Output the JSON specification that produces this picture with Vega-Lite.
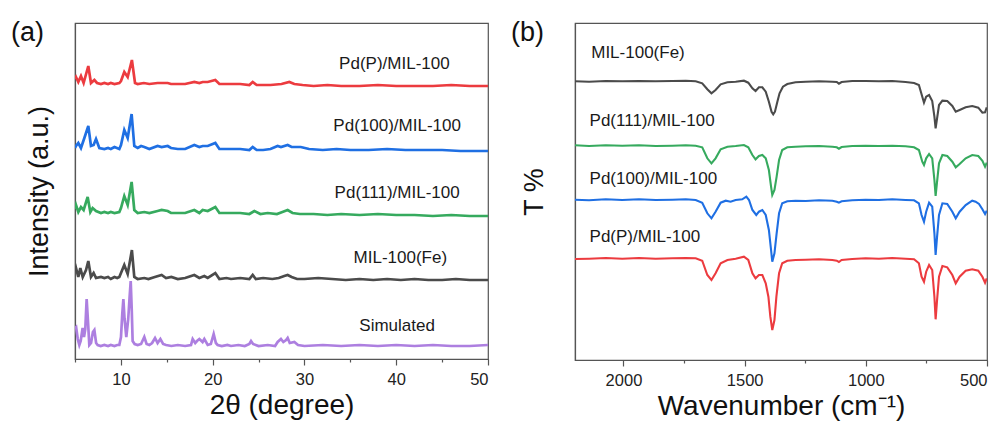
{
  "$schema": "https://vega.github.io/schema/vega-lite/v6.json",
  "padding": {"left": 10, "top": 18, "right": 0, "bottom": 0},
  "background": "white",
  "config": {
    "font": "Liberation Sans",
    "view": {"stroke": "#555555", "strokeWidth": 1.2},
    "axis": {
      "grid": false,
      "labelFont": "Liberation Sans",
      "titleFont": "Liberation Sans",
      "labelFontSize": 16.5,
      "titleFontSize": 27,
      "titleFontWeight": "normal",
      "labelColor": "#222222",
      "titleColor": "#111111",
      "domainColor": "#555555",
      "domainWidth": 1.2,
      "tickColor": "#555555",
      "tickWidth": 1.2
    },
    "title": {"font": "Liberation Sans", "fontSize": 27, "fontWeight": "normal", "color": "#111111"}
  },
  "datasets": {
    "xrd": [
      {"sample": "Simulated", "x": 5.0, "y": 31}, {"sample": "Simulated", "x": 5.12, "y": 32}, {"sample": "Simulated", "x": 5.3, "y": 20}, {"sample": "Simulated", "x": 5.47, "y": 14}, {"sample": "Simulated", "x": 5.62, "y": 18}, {"sample": "Simulated", "x": 5.83, "y": 31}, {"sample": "Simulated", "x": 5.98, "y": 22}, {"sample": "Simulated", "x": 6.12, "y": 30}, {"sample": "Simulated", "x": 6.27, "y": 60}, {"sample": "Simulated", "x": 6.4, "y": 40}, {"sample": "Simulated", "x": 6.56, "y": 14}, {"sample": "Simulated", "x": 6.75, "y": 16}, {"sample": "Simulated", "x": 6.95, "y": 27}, {"sample": "Simulated", "x": 7.11, "y": 29}, {"sample": "Simulated", "x": 7.3, "y": 16}, {"sample": "Simulated", "x": 7.47, "y": 14}, {"sample": "Simulated", "x": 7.8, "y": 13}, {"sample": "Simulated", "x": 8.2, "y": 14}, {"sample": "Simulated", "x": 8.6, "y": 13}, {"sample": "Simulated", "x": 8.9, "y": 14}, {"sample": "Simulated", "x": 9.3, "y": 13}, {"sample": "Simulated", "x": 9.6, "y": 14}, {"sample": "Simulated", "x": 9.83, "y": 14}, {"sample": "Simulated", "x": 10.01, "y": 22}, {"sample": "Simulated", "x": 10.15, "y": 45}, {"sample": "Simulated", "x": 10.27, "y": 60}, {"sample": "Simulated", "x": 10.4, "y": 40}, {"sample": "Simulated", "x": 10.59, "y": 22}, {"sample": "Simulated", "x": 10.8, "y": 40}, {"sample": "Simulated", "x": 10.95, "y": 62}, {"sample": "Simulated", "x": 11.07, "y": 78}, {"sample": "Simulated", "x": 11.18, "y": 50}, {"sample": "Simulated", "x": 11.28, "y": 18}, {"sample": "Simulated", "x": 11.5, "y": 15}, {"sample": "Simulated", "x": 11.83, "y": 14}, {"sample": "Simulated", "x": 12.2, "y": 15}, {"sample": "Simulated", "x": 12.55, "y": 22}, {"sample": "Simulated", "x": 12.8, "y": 15}, {"sample": "Simulated", "x": 13.1, "y": 14}, {"sample": "Simulated", "x": 13.4, "y": 16}, {"sample": "Simulated", "x": 13.72, "y": 21}, {"sample": "Simulated", "x": 14.0, "y": 16}, {"sample": "Simulated", "x": 14.3, "y": 20}, {"sample": "Simulated", "x": 14.6, "y": 15}, {"sample": "Simulated", "x": 14.92, "y": 14}, {"sample": "Simulated", "x": 15.5, "y": 13}, {"sample": "Simulated", "x": 16.2, "y": 14}, {"sample": "Simulated", "x": 17.0, "y": 13}, {"sample": "Simulated", "x": 17.64, "y": 14}, {"sample": "Simulated", "x": 17.82, "y": 20}, {"sample": "Simulated", "x": 18.1, "y": 16}, {"sample": "Simulated", "x": 18.29, "y": 18}, {"sample": "Simulated", "x": 18.55, "y": 20}, {"sample": "Simulated", "x": 18.9, "y": 17}, {"sample": "Simulated", "x": 19.09, "y": 20}, {"sample": "Simulated", "x": 19.46, "y": 14}, {"sample": "Simulated", "x": 19.8, "y": 15}, {"sample": "Simulated", "x": 20.11, "y": 25}, {"sample": "Simulated", "x": 20.35, "y": 16}, {"sample": "Simulated", "x": 20.54, "y": 14}, {"sample": "Simulated", "x": 21.0, "y": 13}, {"sample": "Simulated", "x": 21.6, "y": 14}, {"sample": "Simulated", "x": 22.0, "y": 13}, {"sample": "Simulated", "x": 22.8, "y": 14}, {"sample": "Simulated", "x": 23.5, "y": 13}, {"sample": "Simulated", "x": 24.0, "y": 15}, {"sample": "Simulated", "x": 24.18, "y": 18}, {"sample": "Simulated", "x": 24.4, "y": 15}, {"sample": "Simulated", "x": 25.0, "y": 13}, {"sample": "Simulated", "x": 26.0, "y": 14}, {"sample": "Simulated", "x": 26.8, "y": 13}, {"sample": "Simulated", "x": 27.08, "y": 17}, {"sample": "Simulated", "x": 27.44, "y": 20}, {"sample": "Simulated", "x": 27.7, "y": 17}, {"sample": "Simulated", "x": 28.0, "y": 19}, {"sample": "Simulated", "x": 28.17, "y": 21}, {"sample": "Simulated", "x": 28.4, "y": 16}, {"sample": "Simulated", "x": 28.9, "y": 17}, {"sample": "Simulated", "x": 29.3, "y": 14}, {"sample": "Simulated", "x": 30, "y": 13}, {"sample": "Simulated", "x": 32, "y": 14}, {"sample": "Simulated", "x": 34, "y": 13}, {"sample": "Simulated", "x": 36, "y": 14}, {"sample": "Simulated", "x": 38, "y": 13}, {"sample": "Simulated", "x": 40, "y": 14}, {"sample": "Simulated", "x": 42, "y": 13}, {"sample": "Simulated", "x": 44, "y": 14}, {"sample": "Simulated", "x": 46, "y": 13}, {"sample": "Simulated", "x": 48, "y": 13}, {"sample": "Simulated", "x": 50, "y": 14},

      {"sample": "MIL-100(Fe)", "x": 5.0, "y": 88}, {"sample": "MIL-100(Fe)", "x": 5.11, "y": 91}, {"sample": "MIL-100(Fe)", "x": 5.36, "y": 82}, {"sample": "MIL-100(Fe)", "x": 5.58, "y": 91}, {"sample": "MIL-100(Fe)", "x": 5.84, "y": 82}, {"sample": "MIL-100(Fe)", "x": 6.2, "y": 89}, {"sample": "MIL-100(Fe)", "x": 6.45, "y": 98}, {"sample": "MIL-100(Fe)", "x": 6.74, "y": 82}, {"sample": "MIL-100(Fe)", "x": 7.03, "y": 86}, {"sample": "MIL-100(Fe)", "x": 7.29, "y": 81}, {"sample": "MIL-100(Fe)", "x": 7.83, "y": 82}, {"sample": "MIL-100(Fe)", "x": 8.2, "y": 81}, {"sample": "MIL-100(Fe)", "x": 8.6, "y": 82}, {"sample": "MIL-100(Fe)", "x": 8.9, "y": 80}, {"sample": "MIL-100(Fe)", "x": 9.3, "y": 82}, {"sample": "MIL-100(Fe)", "x": 9.6, "y": 81}, {"sample": "MIL-100(Fe)", "x": 9.83, "y": 82}, {"sample": "MIL-100(Fe)", "x": 10.01, "y": 86}, {"sample": "MIL-100(Fe)", "x": 10.37, "y": 94}, {"sample": "MIL-100(Fe)", "x": 10.74, "y": 85}, {"sample": "MIL-100(Fe)", "x": 11.2, "y": 109}, {"sample": "MIL-100(Fe)", "x": 11.46, "y": 82}, {"sample": "MIL-100(Fe)", "x": 11.83, "y": 80}, {"sample": "MIL-100(Fe)", "x": 12.55, "y": 81}, {"sample": "MIL-100(Fe)", "x": 13.0, "y": 80}, {"sample": "MIL-100(Fe)", "x": 13.7, "y": 82}, {"sample": "MIL-100(Fe)", "x": 14.44, "y": 84}, {"sample": "MIL-100(Fe)", "x": 14.92, "y": 81}, {"sample": "MIL-100(Fe)", "x": 15.5, "y": 82}, {"sample": "MIL-100(Fe)", "x": 16.2, "y": 80}, {"sample": "MIL-100(Fe)", "x": 17.0, "y": 81}, {"sample": "MIL-100(Fe)", "x": 18.0, "y": 84}, {"sample": "MIL-100(Fe)", "x": 18.55, "y": 81}, {"sample": "MIL-100(Fe)", "x": 19.09, "y": 83}, {"sample": "MIL-100(Fe)", "x": 19.46, "y": 81}, {"sample": "MIL-100(Fe)", "x": 20.29, "y": 86}, {"sample": "MIL-100(Fe)", "x": 20.73, "y": 80}, {"sample": "MIL-100(Fe)", "x": 21.5, "y": 81}, {"sample": "MIL-100(Fe)", "x": 22.0, "y": 80}, {"sample": "MIL-100(Fe)", "x": 23.0, "y": 81}, {"sample": "MIL-100(Fe)", "x": 24.0, "y": 80}, {"sample": "MIL-100(Fe)", "x": 24.36, "y": 84}, {"sample": "MIL-100(Fe)", "x": 24.7, "y": 80}, {"sample": "MIL-100(Fe)", "x": 25.5, "y": 81}, {"sample": "MIL-100(Fe)", "x": 26.5, "y": 80}, {"sample": "MIL-100(Fe)", "x": 27.2, "y": 81}, {"sample": "MIL-100(Fe)", "x": 27.8, "y": 83}, {"sample": "MIL-100(Fe)", "x": 28.17, "y": 84}, {"sample": "MIL-100(Fe)", "x": 28.6, "y": 82}, {"sample": "MIL-100(Fe)", "x": 29.2, "y": 80}, {"sample": "MIL-100(Fe)", "x": 30, "y": 80}, {"sample": "MIL-100(Fe)", "x": 31.5, "y": 81}, {"sample": "MIL-100(Fe)", "x": 33, "y": 80}, {"sample": "MIL-100(Fe)", "x": 34.5, "y": 79}, {"sample": "MIL-100(Fe)", "x": 36, "y": 80}, {"sample": "MIL-100(Fe)", "x": 37.5, "y": 79}, {"sample": "MIL-100(Fe)", "x": 39, "y": 80}, {"sample": "MIL-100(Fe)", "x": 40.5, "y": 79}, {"sample": "MIL-100(Fe)", "x": 42, "y": 80}, {"sample": "MIL-100(Fe)", "x": 43.5, "y": 79}, {"sample": "MIL-100(Fe)", "x": 45, "y": 79}, {"sample": "MIL-100(Fe)", "x": 46.5, "y": 80}, {"sample": "MIL-100(Fe)", "x": 48, "y": 79}, {"sample": "MIL-100(Fe)", "x": 50, "y": 79},

      {"sample": "Pd(111)/MIL-100", "x": 5.0, "y": 150}, {"sample": "Pd(111)/MIL-100", "x": 5.11, "y": 154}, {"sample": "Pd(111)/MIL-100", "x": 5.36, "y": 147}, {"sample": "Pd(111)/MIL-100", "x": 5.65, "y": 152}, {"sample": "Pd(111)/MIL-100", "x": 5.94, "y": 149}, {"sample": "Pd(111)/MIL-100", "x": 6.38, "y": 162}, {"sample": "Pd(111)/MIL-100", "x": 6.67, "y": 147}, {"sample": "Pd(111)/MIL-100", "x": 6.92, "y": 151}, {"sample": "Pd(111)/MIL-100", "x": 7.29, "y": 148}, {"sample": "Pd(111)/MIL-100", "x": 7.83, "y": 146}, {"sample": "Pd(111)/MIL-100", "x": 8.2, "y": 147}, {"sample": "Pd(111)/MIL-100", "x": 8.6, "y": 146}, {"sample": "Pd(111)/MIL-100", "x": 8.9, "y": 147}, {"sample": "Pd(111)/MIL-100", "x": 9.3, "y": 146}, {"sample": "Pd(111)/MIL-100", "x": 9.83, "y": 147}, {"sample": "Pd(111)/MIL-100", "x": 10.01, "y": 151}, {"sample": "Pd(111)/MIL-100", "x": 10.37, "y": 163}, {"sample": "Pd(111)/MIL-100", "x": 10.74, "y": 154}, {"sample": "Pd(111)/MIL-100", "x": 11.17, "y": 177}, {"sample": "Pd(111)/MIL-100", "x": 11.46, "y": 149}, {"sample": "Pd(111)/MIL-100", "x": 11.83, "y": 146}, {"sample": "Pd(111)/MIL-100", "x": 12.55, "y": 147}, {"sample": "Pd(111)/MIL-100", "x": 13.1, "y": 146}, {"sample": "Pd(111)/MIL-100", "x": 14.0, "y": 148}, {"sample": "Pd(111)/MIL-100", "x": 14.44, "y": 149}, {"sample": "Pd(111)/MIL-100", "x": 15.1, "y": 148}, {"sample": "Pd(111)/MIL-100", "x": 15.46, "y": 146}, {"sample": "Pd(111)/MIL-100", "x": 16.2, "y": 146}, {"sample": "Pd(111)/MIL-100", "x": 17.0, "y": 146}, {"sample": "Pd(111)/MIL-100", "x": 18.0, "y": 149}, {"sample": "Pd(111)/MIL-100", "x": 18.55, "y": 146}, {"sample": "Pd(111)/MIL-100", "x": 18.91, "y": 149}, {"sample": "Pd(111)/MIL-100", "x": 19.46, "y": 148}, {"sample": "Pd(111)/MIL-100", "x": 20.29, "y": 152}, {"sample": "Pd(111)/MIL-100", "x": 20.73, "y": 146}, {"sample": "Pd(111)/MIL-100", "x": 22.0, "y": 146}, {"sample": "Pd(111)/MIL-100", "x": 23.0, "y": 146}, {"sample": "Pd(111)/MIL-100", "x": 24.0, "y": 145}, {"sample": "Pd(111)/MIL-100", "x": 24.54, "y": 148}, {"sample": "Pd(111)/MIL-100", "x": 25.2, "y": 145}, {"sample": "Pd(111)/MIL-100", "x": 26.0, "y": 146}, {"sample": "Pd(111)/MIL-100", "x": 27.0, "y": 145}, {"sample": "Pd(111)/MIL-100", "x": 27.6, "y": 147}, {"sample": "Pd(111)/MIL-100", "x": 28.17, "y": 149}, {"sample": "Pd(111)/MIL-100", "x": 28.7, "y": 146}, {"sample": "Pd(111)/MIL-100", "x": 29.5, "y": 145}, {"sample": "Pd(111)/MIL-100", "x": 31, "y": 145}, {"sample": "Pd(111)/MIL-100", "x": 32.5, "y": 144}, {"sample": "Pd(111)/MIL-100", "x": 34, "y": 145}, {"sample": "Pd(111)/MIL-100", "x": 36, "y": 144}, {"sample": "Pd(111)/MIL-100", "x": 38, "y": 145}, {"sample": "Pd(111)/MIL-100", "x": 40, "y": 144}, {"sample": "Pd(111)/MIL-100", "x": 42, "y": 144}, {"sample": "Pd(111)/MIL-100", "x": 44, "y": 143}, {"sample": "Pd(111)/MIL-100", "x": 46, "y": 144}, {"sample": "Pd(111)/MIL-100", "x": 48, "y": 143}, {"sample": "Pd(111)/MIL-100", "x": 50, "y": 143},

      {"sample": "Pd(100)/MIL-100", "x": 5.0, "y": 211}, {"sample": "Pd(100)/MIL-100", "x": 5.11, "y": 213}, {"sample": "Pd(100)/MIL-100", "x": 5.36, "y": 216}, {"sample": "Pd(100)/MIL-100", "x": 5.65, "y": 211}, {"sample": "Pd(100)/MIL-100", "x": 6.02, "y": 221}, {"sample": "Pd(100)/MIL-100", "x": 6.45, "y": 233}, {"sample": "Pd(100)/MIL-100", "x": 6.74, "y": 213}, {"sample": "Pd(100)/MIL-100", "x": 7.03, "y": 214}, {"sample": "Pd(100)/MIL-100", "x": 7.29, "y": 220}, {"sample": "Pd(100)/MIL-100", "x": 7.65, "y": 211}, {"sample": "Pd(100)/MIL-100", "x": 8.2, "y": 210}, {"sample": "Pd(100)/MIL-100", "x": 8.6, "y": 211}, {"sample": "Pd(100)/MIL-100", "x": 8.9, "y": 210}, {"sample": "Pd(100)/MIL-100", "x": 9.3, "y": 212}, {"sample": "Pd(100)/MIL-100", "x": 9.83, "y": 210}, {"sample": "Pd(100)/MIL-100", "x": 10.01, "y": 214}, {"sample": "Pd(100)/MIL-100", "x": 10.37, "y": 229}, {"sample": "Pd(100)/MIL-100", "x": 10.74, "y": 221}, {"sample": "Pd(100)/MIL-100", "x": 11.17, "y": 245}, {"sample": "Pd(100)/MIL-100", "x": 11.46, "y": 213}, {"sample": "Pd(100)/MIL-100", "x": 11.83, "y": 211}, {"sample": "Pd(100)/MIL-100", "x": 12.2, "y": 213}, {"sample": "Pd(100)/MIL-100", "x": 12.55, "y": 212}, {"sample": "Pd(100)/MIL-100", "x": 13.1, "y": 210}, {"sample": "Pd(100)/MIL-100", "x": 14.0, "y": 213}, {"sample": "Pd(100)/MIL-100", "x": 14.44, "y": 212}, {"sample": "Pd(100)/MIL-100", "x": 15.1, "y": 213}, {"sample": "Pd(100)/MIL-100", "x": 15.46, "y": 211}, {"sample": "Pd(100)/MIL-100", "x": 16.2, "y": 210}, {"sample": "Pd(100)/MIL-100", "x": 17.0, "y": 210}, {"sample": "Pd(100)/MIL-100", "x": 18.0, "y": 214}, {"sample": "Pd(100)/MIL-100", "x": 18.55, "y": 212}, {"sample": "Pd(100)/MIL-100", "x": 18.91, "y": 213}, {"sample": "Pd(100)/MIL-100", "x": 19.46, "y": 213}, {"sample": "Pd(100)/MIL-100", "x": 20.29, "y": 216}, {"sample": "Pd(100)/MIL-100", "x": 20.73, "y": 210}, {"sample": "Pd(100)/MIL-100", "x": 22.0, "y": 210}, {"sample": "Pd(100)/MIL-100", "x": 23.0, "y": 210}, {"sample": "Pd(100)/MIL-100", "x": 24.0, "y": 209}, {"sample": "Pd(100)/MIL-100", "x": 24.36, "y": 212}, {"sample": "Pd(100)/MIL-100", "x": 24.8, "y": 209}, {"sample": "Pd(100)/MIL-100", "x": 25.5, "y": 209}, {"sample": "Pd(100)/MIL-100", "x": 26.3, "y": 210}, {"sample": "Pd(100)/MIL-100", "x": 27.08, "y": 213}, {"sample": "Pd(100)/MIL-100", "x": 27.44, "y": 212}, {"sample": "Pd(100)/MIL-100", "x": 28.17, "y": 214}, {"sample": "Pd(100)/MIL-100", "x": 28.6, "y": 212}, {"sample": "Pd(100)/MIL-100", "x": 29.6, "y": 212}, {"sample": "Pd(100)/MIL-100", "x": 30.5, "y": 210}, {"sample": "Pd(100)/MIL-100", "x": 32, "y": 209}, {"sample": "Pd(100)/MIL-100", "x": 33.5, "y": 210}, {"sample": "Pd(100)/MIL-100", "x": 35, "y": 209}, {"sample": "Pd(100)/MIL-100", "x": 37, "y": 209}, {"sample": "Pd(100)/MIL-100", "x": 39, "y": 210}, {"sample": "Pd(100)/MIL-100", "x": 41, "y": 209}, {"sample": "Pd(100)/MIL-100", "x": 43, "y": 209}, {"sample": "Pd(100)/MIL-100", "x": 45, "y": 209}, {"sample": "Pd(100)/MIL-100", "x": 47, "y": 208}, {"sample": "Pd(100)/MIL-100", "x": 50, "y": 208},

      {"sample": "Pd(P)/MIL-100", "x": 5.0, "y": 280}, {"sample": "Pd(P)/MIL-100", "x": 5.11, "y": 282}, {"sample": "Pd(P)/MIL-100", "x": 5.36, "y": 277}, {"sample": "Pd(P)/MIL-100", "x": 5.65, "y": 283}, {"sample": "Pd(P)/MIL-100", "x": 5.94, "y": 276}, {"sample": "Pd(P)/MIL-100", "x": 6.45, "y": 293}, {"sample": "Pd(P)/MIL-100", "x": 6.74, "y": 276}, {"sample": "Pd(P)/MIL-100", "x": 7.11, "y": 279}, {"sample": "Pd(P)/MIL-100", "x": 7.4, "y": 276}, {"sample": "Pd(P)/MIL-100", "x": 7.83, "y": 275}, {"sample": "Pd(P)/MIL-100", "x": 8.2, "y": 276}, {"sample": "Pd(P)/MIL-100", "x": 8.6, "y": 275}, {"sample": "Pd(P)/MIL-100", "x": 8.9, "y": 276}, {"sample": "Pd(P)/MIL-100", "x": 9.3, "y": 275}, {"sample": "Pd(P)/MIL-100", "x": 9.83, "y": 276}, {"sample": "Pd(P)/MIL-100", "x": 10.01, "y": 278}, {"sample": "Pd(P)/MIL-100", "x": 10.37, "y": 287}, {"sample": "Pd(P)/MIL-100", "x": 10.74, "y": 282}, {"sample": "Pd(P)/MIL-100", "x": 11.2, "y": 299}, {"sample": "Pd(P)/MIL-100", "x": 11.54, "y": 276}, {"sample": "Pd(P)/MIL-100", "x": 11.83, "y": 275}, {"sample": "Pd(P)/MIL-100", "x": 12.5, "y": 276}, {"sample": "Pd(P)/MIL-100", "x": 13.1, "y": 275}, {"sample": "Pd(P)/MIL-100", "x": 14.0, "y": 276}, {"sample": "Pd(P)/MIL-100", "x": 14.44, "y": 276}, {"sample": "Pd(P)/MIL-100", "x": 15.1, "y": 276}, {"sample": "Pd(P)/MIL-100", "x": 15.46, "y": 275}, {"sample": "Pd(P)/MIL-100", "x": 16.2, "y": 275}, {"sample": "Pd(P)/MIL-100", "x": 17.0, "y": 275}, {"sample": "Pd(P)/MIL-100", "x": 18.0, "y": 277}, {"sample": "Pd(P)/MIL-100", "x": 18.55, "y": 276}, {"sample": "Pd(P)/MIL-100", "x": 18.91, "y": 277}, {"sample": "Pd(P)/MIL-100", "x": 19.46, "y": 277}, {"sample": "Pd(P)/MIL-100", "x": 20.29, "y": 279}, {"sample": "Pd(P)/MIL-100", "x": 20.73, "y": 275}, {"sample": "Pd(P)/MIL-100", "x": 22.0, "y": 275}, {"sample": "Pd(P)/MIL-100", "x": 23.0, "y": 275}, {"sample": "Pd(P)/MIL-100", "x": 24.0, "y": 274}, {"sample": "Pd(P)/MIL-100", "x": 24.36, "y": 277}, {"sample": "Pd(P)/MIL-100", "x": 24.8, "y": 274}, {"sample": "Pd(P)/MIL-100", "x": 25.5, "y": 274}, {"sample": "Pd(P)/MIL-100", "x": 26.3, "y": 274}, {"sample": "Pd(P)/MIL-100", "x": 27.5, "y": 275}, {"sample": "Pd(P)/MIL-100", "x": 28.35, "y": 277}, {"sample": "Pd(P)/MIL-100", "x": 28.9, "y": 275}, {"sample": "Pd(P)/MIL-100", "x": 29.8, "y": 274}, {"sample": "Pd(P)/MIL-100", "x": 31, "y": 273}, {"sample": "Pd(P)/MIL-100", "x": 32.5, "y": 274}, {"sample": "Pd(P)/MIL-100", "x": 34, "y": 273}, {"sample": "Pd(P)/MIL-100", "x": 36, "y": 273}, {"sample": "Pd(P)/MIL-100", "x": 38, "y": 274}, {"sample": "Pd(P)/MIL-100", "x": 40, "y": 273}, {"sample": "Pd(P)/MIL-100", "x": 42, "y": 273}, {"sample": "Pd(P)/MIL-100", "x": 44, "y": 273}, {"sample": "Pd(P)/MIL-100", "x": 46, "y": 274}, {"sample": "Pd(P)/MIL-100", "x": 48, "y": 273}, {"sample": "Pd(P)/MIL-100", "x": 50, "y": 273}
    ],
    "xrdLabels": [
      {"sample": "Pd(P)/MIL-100", "x": 39.8, "y": 295},
      {"sample": "Pd(100)/MIL-100", "x": 40.1, "y": 233},
      {"sample": "Pd(111)/MIL-100", "x": 40.1, "y": 166},
      {"sample": "MIL-100(Fe)", "x": 40.45, "y": 101},
      {"sample": "Simulated", "x": 40.1, "y": 33}
    ],
    "ftir": [
      {"sample": "MIL-100(Fe)", "w": 2200, "t": 278.7}, {"sample": "MIL-100(Fe)", "w": 2142, "t": 278.3}, {"sample": "MIL-100(Fe)", "w": 2073, "t": 279}, {"sample": "MIL-100(Fe)", "w": 2005, "t": 278.7}, {"sample": "MIL-100(Fe)", "w": 1936, "t": 279}, {"sample": "MIL-100(Fe)", "w": 1867, "t": 278.7}, {"sample": "MIL-100(Fe)", "w": 1798, "t": 279}, {"sample": "MIL-100(Fe)", "w": 1743, "t": 279.3}, {"sample": "MIL-100(Fe)", "w": 1702, "t": 278.7}, {"sample": "MIL-100(Fe)", "w": 1675, "t": 276.7}, {"sample": "MIL-100(Fe)", "w": 1654, "t": 270.7}, {"sample": "MIL-100(Fe)", "w": 1637, "t": 266.7}, {"sample": "MIL-100(Fe)", "w": 1620, "t": 270}, {"sample": "MIL-100(Fe)", "w": 1599, "t": 275.7}, {"sample": "MIL-100(Fe)", "w": 1571, "t": 277.7}, {"sample": "MIL-100(Fe)", "w": 1537, "t": 278.3}, {"sample": "MIL-100(Fe)", "w": 1503, "t": 279.3}, {"sample": "MIL-100(Fe)", "w": 1485, "t": 277.3}, {"sample": "MIL-100(Fe)", "w": 1468, "t": 271.7}, {"sample": "MIL-100(Fe)", "w": 1455, "t": 269}, {"sample": "MIL-100(Fe)", "w": 1441, "t": 272.7}, {"sample": "MIL-100(Fe)", "w": 1427, "t": 272.7}, {"sample": "MIL-100(Fe)", "w": 1413, "t": 268.3}, {"sample": "MIL-100(Fe)", "w": 1400, "t": 258.3}, {"sample": "MIL-100(Fe)", "w": 1389, "t": 248.3}, {"sample": "MIL-100(Fe)", "w": 1382, "t": 245.7}, {"sample": "MIL-100(Fe)", "w": 1375, "t": 248.3}, {"sample": "MIL-100(Fe)", "w": 1365, "t": 258.3}, {"sample": "MIL-100(Fe)", "w": 1356, "t": 266.7}, {"sample": "MIL-100(Fe)", "w": 1342, "t": 273.3}, {"sample": "MIL-100(Fe)", "w": 1324, "t": 276}, {"sample": "MIL-100(Fe)", "w": 1290, "t": 277.7}, {"sample": "MIL-100(Fe)", "w": 1248, "t": 278.3}, {"sample": "MIL-100(Fe)", "w": 1193, "t": 278.7}, {"sample": "MIL-100(Fe)", "w": 1138, "t": 278.3}, {"sample": "MIL-100(Fe)", "w": 1120, "t": 278}, {"sample": "MIL-100(Fe)", "w": 1111, "t": 276.3}, {"sample": "MIL-100(Fe)", "w": 1100, "t": 278}, {"sample": "MIL-100(Fe)", "w": 1056, "t": 279}, {"sample": "MIL-100(Fe)", "w": 1001, "t": 279}, {"sample": "MIL-100(Fe)", "w": 946, "t": 278.7}, {"sample": "MIL-100(Fe)", "w": 891, "t": 279}, {"sample": "MIL-100(Fe)", "w": 836, "t": 278}, {"sample": "MIL-100(Fe)", "w": 801, "t": 277}, {"sample": "MIL-100(Fe)", "w": 781, "t": 275}, {"sample": "MIL-100(Fe)", "w": 767, "t": 263.3}, {"sample": "MIL-100(Fe)", "w": 760, "t": 257.3}, {"sample": "MIL-100(Fe)", "w": 751, "t": 263.3}, {"sample": "MIL-100(Fe)", "w": 739, "t": 265}, {"sample": "MIL-100(Fe)", "w": 726, "t": 259}, {"sample": "MIL-100(Fe)", "w": 717, "t": 243.3}, {"sample": "MIL-100(Fe)", "w": 712, "t": 231.7}, {"sample": "MIL-100(Fe)", "w": 706, "t": 241.7}, {"sample": "MIL-100(Fe)", "w": 698, "t": 255}, {"sample": "MIL-100(Fe)", "w": 684, "t": 259.3}, {"sample": "MIL-100(Fe)", "w": 664, "t": 259}, {"sample": "MIL-100(Fe)", "w": 643, "t": 254}, {"sample": "MIL-100(Fe)", "w": 629, "t": 248.3}, {"sample": "MIL-100(Fe)", "w": 613, "t": 250}, {"sample": "MIL-100(Fe)", "w": 588, "t": 252.7}, {"sample": "MIL-100(Fe)", "w": 561, "t": 254}, {"sample": "MIL-100(Fe)", "w": 536, "t": 252.3}, {"sample": "MIL-100(Fe)", "w": 519, "t": 247.3}, {"sample": "MIL-100(Fe)", "w": 508, "t": 247.7}, {"sample": "MIL-100(Fe)", "w": 501, "t": 252.7},

      {"sample": "Pd(111)/MIL-100", "w": 2200, "t": 214.7}, {"sample": "Pd(111)/MIL-100", "w": 2142, "t": 214}, {"sample": "Pd(111)/MIL-100", "w": 2073, "t": 214.7}, {"sample": "Pd(111)/MIL-100", "w": 2005, "t": 214.3}, {"sample": "Pd(111)/MIL-100", "w": 1936, "t": 214.7}, {"sample": "Pd(111)/MIL-100", "w": 1867, "t": 214}, {"sample": "Pd(111)/MIL-100", "w": 1798, "t": 214.3}, {"sample": "Pd(111)/MIL-100", "w": 1743, "t": 214.7}, {"sample": "Pd(111)/MIL-100", "w": 1702, "t": 214.3}, {"sample": "Pd(111)/MIL-100", "w": 1675, "t": 212.7}, {"sample": "Pd(111)/MIL-100", "w": 1654, "t": 201.7}, {"sample": "Pd(111)/MIL-100", "w": 1637, "t": 196.7}, {"sample": "Pd(111)/MIL-100", "w": 1620, "t": 201.7}, {"sample": "Pd(111)/MIL-100", "w": 1599, "t": 210.7}, {"sample": "Pd(111)/MIL-100", "w": 1571, "t": 213.3}, {"sample": "Pd(111)/MIL-100", "w": 1537, "t": 214}, {"sample": "Pd(111)/MIL-100", "w": 1503, "t": 215}, {"sample": "Pd(111)/MIL-100", "w": 1485, "t": 212.7}, {"sample": "Pd(111)/MIL-100", "w": 1468, "t": 205}, {"sample": "Pd(111)/MIL-100", "w": 1455, "t": 200.7}, {"sample": "Pd(111)/MIL-100", "w": 1441, "t": 204}, {"sample": "Pd(111)/MIL-100", "w": 1427, "t": 205}, {"sample": "Pd(111)/MIL-100", "w": 1413, "t": 201.7}, {"sample": "Pd(111)/MIL-100", "w": 1400, "t": 190}, {"sample": "Pd(111)/MIL-100", "w": 1391, "t": 173.3}, {"sample": "Pd(111)/MIL-100", "w": 1386, "t": 165}, {"sample": "Pd(111)/MIL-100", "w": 1377, "t": 170}, {"sample": "Pd(111)/MIL-100", "w": 1368, "t": 183.3}, {"sample": "Pd(111)/MIL-100", "w": 1358, "t": 200}, {"sample": "Pd(111)/MIL-100", "w": 1345, "t": 210}, {"sample": "Pd(111)/MIL-100", "w": 1324, "t": 212.7}, {"sample": "Pd(111)/MIL-100", "w": 1290, "t": 213.3}, {"sample": "Pd(111)/MIL-100", "w": 1248, "t": 213.7}, {"sample": "Pd(111)/MIL-100", "w": 1193, "t": 214}, {"sample": "Pd(111)/MIL-100", "w": 1138, "t": 213.3}, {"sample": "Pd(111)/MIL-100", "w": 1120, "t": 212.7}, {"sample": "Pd(111)/MIL-100", "w": 1111, "t": 211.3}, {"sample": "Pd(111)/MIL-100", "w": 1100, "t": 213}, {"sample": "Pd(111)/MIL-100", "w": 1056, "t": 214}, {"sample": "Pd(111)/MIL-100", "w": 1001, "t": 214.3}, {"sample": "Pd(111)/MIL-100", "w": 946, "t": 214}, {"sample": "Pd(111)/MIL-100", "w": 891, "t": 214.3}, {"sample": "Pd(111)/MIL-100", "w": 836, "t": 213.7}, {"sample": "Pd(111)/MIL-100", "w": 801, "t": 212.7}, {"sample": "Pd(111)/MIL-100", "w": 781, "t": 210}, {"sample": "Pd(111)/MIL-100", "w": 767, "t": 198.3}, {"sample": "Pd(111)/MIL-100", "w": 760, "t": 195}, {"sample": "Pd(111)/MIL-100", "w": 751, "t": 201.7}, {"sample": "Pd(111)/MIL-100", "w": 739, "t": 206}, {"sample": "Pd(111)/MIL-100", "w": 726, "t": 201.7}, {"sample": "Pd(111)/MIL-100", "w": 717, "t": 180}, {"sample": "Pd(111)/MIL-100", "w": 712, "t": 164}, {"sample": "Pd(111)/MIL-100", "w": 706, "t": 178.3}, {"sample": "Pd(111)/MIL-100", "w": 698, "t": 196.7}, {"sample": "Pd(111)/MIL-100", "w": 684, "t": 205}, {"sample": "Pd(111)/MIL-100", "w": 664, "t": 204}, {"sample": "Pd(111)/MIL-100", "w": 643, "t": 198.3}, {"sample": "Pd(111)/MIL-100", "w": 629, "t": 192.7}, {"sample": "Pd(111)/MIL-100", "w": 613, "t": 196}, {"sample": "Pd(111)/MIL-100", "w": 588, "t": 201.7}, {"sample": "Pd(111)/MIL-100", "w": 561, "t": 205}, {"sample": "Pd(111)/MIL-100", "w": 536, "t": 204}, {"sample": "Pd(111)/MIL-100", "w": 519, "t": 199.3}, {"sample": "Pd(111)/MIL-100", "w": 508, "t": 193.3}, {"sample": "Pd(111)/MIL-100", "w": 501, "t": 197.3},

      {"sample": "Pd(100)/MIL-100", "w": 2200, "t": 160.3}, {"sample": "Pd(100)/MIL-100", "w": 2142, "t": 159.7}, {"sample": "Pd(100)/MIL-100", "w": 2073, "t": 160.7}, {"sample": "Pd(100)/MIL-100", "w": 2005, "t": 160}, {"sample": "Pd(100)/MIL-100", "w": 1936, "t": 160.7}, {"sample": "Pd(100)/MIL-100", "w": 1867, "t": 160}, {"sample": "Pd(100)/MIL-100", "w": 1798, "t": 160.3}, {"sample": "Pd(100)/MIL-100", "w": 1743, "t": 160.7}, {"sample": "Pd(100)/MIL-100", "w": 1702, "t": 160}, {"sample": "Pd(100)/MIL-100", "w": 1675, "t": 157.3}, {"sample": "Pd(100)/MIL-100", "w": 1654, "t": 146.7}, {"sample": "Pd(100)/MIL-100", "w": 1637, "t": 141.7}, {"sample": "Pd(100)/MIL-100", "w": 1620, "t": 148.3}, {"sample": "Pd(100)/MIL-100", "w": 1599, "t": 157.3}, {"sample": "Pd(100)/MIL-100", "w": 1578, "t": 159.3}, {"sample": "Pd(100)/MIL-100", "w": 1558, "t": 158.3}, {"sample": "Pd(100)/MIL-100", "w": 1537, "t": 160}, {"sample": "Pd(100)/MIL-100", "w": 1510, "t": 160.7}, {"sample": "Pd(100)/MIL-100", "w": 1493, "t": 163.3}, {"sample": "Pd(100)/MIL-100", "w": 1482, "t": 160}, {"sample": "Pd(100)/MIL-100", "w": 1468, "t": 150}, {"sample": "Pd(100)/MIL-100", "w": 1452, "t": 145}, {"sample": "Pd(100)/MIL-100", "w": 1441, "t": 148.3}, {"sample": "Pd(100)/MIL-100", "w": 1427, "t": 150}, {"sample": "Pd(100)/MIL-100", "w": 1413, "t": 145}, {"sample": "Pd(100)/MIL-100", "w": 1400, "t": 130}, {"sample": "Pd(100)/MIL-100", "w": 1391, "t": 110}, {"sample": "Pd(100)/MIL-100", "w": 1386, "t": 98.3}, {"sample": "Pd(100)/MIL-100", "w": 1377, "t": 106.7}, {"sample": "Pd(100)/MIL-100", "w": 1368, "t": 126.7}, {"sample": "Pd(100)/MIL-100", "w": 1358, "t": 146.7}, {"sample": "Pd(100)/MIL-100", "w": 1345, "t": 156.7}, {"sample": "Pd(100)/MIL-100", "w": 1324, "t": 158.7}, {"sample": "Pd(100)/MIL-100", "w": 1290, "t": 159.3}, {"sample": "Pd(100)/MIL-100", "w": 1248, "t": 159}, {"sample": "Pd(100)/MIL-100", "w": 1193, "t": 159.7}, {"sample": "Pd(100)/MIL-100", "w": 1138, "t": 159.3}, {"sample": "Pd(100)/MIL-100", "w": 1120, "t": 158.3}, {"sample": "Pd(100)/MIL-100", "w": 1111, "t": 157.3}, {"sample": "Pd(100)/MIL-100", "w": 1100, "t": 158.7}, {"sample": "Pd(100)/MIL-100", "w": 1056, "t": 159.7}, {"sample": "Pd(100)/MIL-100", "w": 1001, "t": 160.3}, {"sample": "Pd(100)/MIL-100", "w": 946, "t": 160}, {"sample": "Pd(100)/MIL-100", "w": 891, "t": 160.7}, {"sample": "Pd(100)/MIL-100", "w": 836, "t": 160}, {"sample": "Pd(100)/MIL-100", "w": 801, "t": 159.7}, {"sample": "Pd(100)/MIL-100", "w": 781, "t": 156.7}, {"sample": "Pd(100)/MIL-100", "w": 770, "t": 145}, {"sample": "Pd(100)/MIL-100", "w": 760, "t": 138.3}, {"sample": "Pd(100)/MIL-100", "w": 751, "t": 148.3}, {"sample": "Pd(100)/MIL-100", "w": 739, "t": 157.3}, {"sample": "Pd(100)/MIL-100", "w": 726, "t": 153.3}, {"sample": "Pd(100)/MIL-100", "w": 717, "t": 126.7}, {"sample": "Pd(100)/MIL-100", "w": 712, "t": 105}, {"sample": "Pd(100)/MIL-100", "w": 706, "t": 123.3}, {"sample": "Pd(100)/MIL-100", "w": 698, "t": 145}, {"sample": "Pd(100)/MIL-100", "w": 684, "t": 156.7}, {"sample": "Pd(100)/MIL-100", "w": 664, "t": 156}, {"sample": "Pd(100)/MIL-100", "w": 643, "t": 148.3}, {"sample": "Pd(100)/MIL-100", "w": 629, "t": 141.7}, {"sample": "Pd(100)/MIL-100", "w": 613, "t": 148.3}, {"sample": "Pd(100)/MIL-100", "w": 588, "t": 155}, {"sample": "Pd(100)/MIL-100", "w": 561, "t": 159.3}, {"sample": "Pd(100)/MIL-100", "w": 547, "t": 158.3}, {"sample": "Pd(100)/MIL-100", "w": 533, "t": 156}, {"sample": "Pd(100)/MIL-100", "w": 519, "t": 150.7}, {"sample": "Pd(100)/MIL-100", "w": 508, "t": 146}, {"sample": "Pd(100)/MIL-100", "w": 501, "t": 149.3},

      {"sample": "Pd(P)/MIL-100", "w": 2200, "t": 101}, {"sample": "Pd(P)/MIL-100", "w": 2142, "t": 101.3}, {"sample": "Pd(P)/MIL-100", "w": 2073, "t": 102}, {"sample": "Pd(P)/MIL-100", "w": 2005, "t": 101.3}, {"sample": "Pd(P)/MIL-100", "w": 1936, "t": 102}, {"sample": "Pd(P)/MIL-100", "w": 1867, "t": 101.3}, {"sample": "Pd(P)/MIL-100", "w": 1798, "t": 101.7}, {"sample": "Pd(P)/MIL-100", "w": 1743, "t": 102}, {"sample": "Pd(P)/MIL-100", "w": 1702, "t": 101.7}, {"sample": "Pd(P)/MIL-100", "w": 1675, "t": 99.3}, {"sample": "Pd(P)/MIL-100", "w": 1654, "t": 85}, {"sample": "Pd(P)/MIL-100", "w": 1637, "t": 80}, {"sample": "Pd(P)/MIL-100", "w": 1620, "t": 86.7}, {"sample": "Pd(P)/MIL-100", "w": 1599, "t": 96.7}, {"sample": "Pd(P)/MIL-100", "w": 1571, "t": 100}, {"sample": "Pd(P)/MIL-100", "w": 1537, "t": 101.3}, {"sample": "Pd(P)/MIL-100", "w": 1503, "t": 103.3}, {"sample": "Pd(P)/MIL-100", "w": 1485, "t": 100}, {"sample": "Pd(P)/MIL-100", "w": 1468, "t": 86.7}, {"sample": "Pd(P)/MIL-100", "w": 1455, "t": 81.7}, {"sample": "Pd(P)/MIL-100", "w": 1441, "t": 85}, {"sample": "Pd(P)/MIL-100", "w": 1427, "t": 85}, {"sample": "Pd(P)/MIL-100", "w": 1413, "t": 76.7}, {"sample": "Pd(P)/MIL-100", "w": 1402, "t": 63.3}, {"sample": "Pd(P)/MIL-100", "w": 1394, "t": 43.3}, {"sample": "Pd(P)/MIL-100", "w": 1386, "t": 30}, {"sample": "Pd(P)/MIL-100", "w": 1377, "t": 40}, {"sample": "Pd(P)/MIL-100", "w": 1369, "t": 63.3}, {"sample": "Pd(P)/MIL-100", "w": 1358, "t": 86.7}, {"sample": "Pd(P)/MIL-100", "w": 1345, "t": 96.7}, {"sample": "Pd(P)/MIL-100", "w": 1324, "t": 99.3}, {"sample": "Pd(P)/MIL-100", "w": 1290, "t": 100}, {"sample": "Pd(P)/MIL-100", "w": 1248, "t": 100.3}, {"sample": "Pd(P)/MIL-100", "w": 1193, "t": 100.7}, {"sample": "Pd(P)/MIL-100", "w": 1138, "t": 100}, {"sample": "Pd(P)/MIL-100", "w": 1120, "t": 99.3}, {"sample": "Pd(P)/MIL-100", "w": 1111, "t": 98}, {"sample": "Pd(P)/MIL-100", "w": 1100, "t": 100}, {"sample": "Pd(P)/MIL-100", "w": 1056, "t": 101}, {"sample": "Pd(P)/MIL-100", "w": 1001, "t": 101.7}, {"sample": "Pd(P)/MIL-100", "w": 946, "t": 101.3}, {"sample": "Pd(P)/MIL-100", "w": 891, "t": 102}, {"sample": "Pd(P)/MIL-100", "w": 836, "t": 101.3}, {"sample": "Pd(P)/MIL-100", "w": 801, "t": 100.7}, {"sample": "Pd(P)/MIL-100", "w": 781, "t": 96.7}, {"sample": "Pd(P)/MIL-100", "w": 770, "t": 83.3}, {"sample": "Pd(P)/MIL-100", "w": 760, "t": 78.3}, {"sample": "Pd(P)/MIL-100", "w": 751, "t": 88.3}, {"sample": "Pd(P)/MIL-100", "w": 739, "t": 95}, {"sample": "Pd(P)/MIL-100", "w": 726, "t": 90}, {"sample": "Pd(P)/MIL-100", "w": 717, "t": 63.3}, {"sample": "Pd(P)/MIL-100", "w": 712, "t": 40.7}, {"sample": "Pd(P)/MIL-100", "w": 706, "t": 60}, {"sample": "Pd(P)/MIL-100", "w": 698, "t": 83.3}, {"sample": "Pd(P)/MIL-100", "w": 684, "t": 94}, {"sample": "Pd(P)/MIL-100", "w": 664, "t": 92.7}, {"sample": "Pd(P)/MIL-100", "w": 643, "t": 85}, {"sample": "Pd(P)/MIL-100", "w": 629, "t": 76.7}, {"sample": "Pd(P)/MIL-100", "w": 613, "t": 83.3}, {"sample": "Pd(P)/MIL-100", "w": 588, "t": 89.3}, {"sample": "Pd(P)/MIL-100", "w": 561, "t": 90.7}, {"sample": "Pd(P)/MIL-100", "w": 536, "t": 89.3}, {"sample": "Pd(P)/MIL-100", "w": 519, "t": 83.3}, {"sample": "Pd(P)/MIL-100", "w": 508, "t": 77.3}, {"sample": "Pd(P)/MIL-100", "w": 501, "t": 81.7}
    ],
    "ftirLabels": [
      {"sample": "MIL-100(Fe)", "w": 2133, "t": 306.7},
      {"sample": "Pd(111)/MIL-100", "w": 2140, "t": 239.3},
      {"sample": "Pd(100)/MIL-100", "w": 2140, "t": 181},
      {"sample": "Pd(P)/MIL-100", "w": 2140, "t": 123.3}
    ]
  },
  "spacing": 20,
  "hconcat": [
    {
      "width": 413,
      "height": 336,
      "title": {"text": "(a)", "anchor": "start", "frame": "bounds", "fontSize": 27, "offset": -24, "dx": -14},
      "layer": [
        {
          "data": {"name": "xrd"},
          "mark": {"type": "line", "strokeWidth": 2.7, "clip": true},
          "encoding": {
            "x": {
              "field": "x", "type": "quantitative",
              "scale": {"domain": [5, 50], "nice": false, "zero": false},
              "axis": {
                "title": "2θ (degree)",
                "titleFontSize": 28,
                "values": [5, 10, 15, 20, 25, 30, 35, 40, 45, 50],
                "labelExpr": "datum.value % 10 === 0 ? datum.label : ''",
                "tickSize": {"condition": {"test": "datum.value % 10 === 0", "value": 6}, "value": 3},
                "labelPadding": 6,
                "titlePadding": 4
              }
            },
            "y": {
              "field": "y", "type": "quantitative",
              "scale": {"domain": [0, 336], "nice": false, "zero": false},
              "axis": {"title": "Intensity (a.u.)", "ticks": false, "labels": false, "titlePadding": 22}
            },
            "color": {
              "field": "sample", "type": "nominal", "legend": null,
              "scale": {
                "domain": ["Simulated", "MIL-100(Fe)", "Pd(111)/MIL-100", "Pd(100)/MIL-100", "Pd(P)/MIL-100"],
                "range": ["#ad7fe0", "#4b4b4b", "#36aa5e", "#1f6fe3", "#ec3b3f"]
              }
            },
            "detail": {"field": "sample"}
          }
        },
        {
          "data": {"name": "xrdLabels"},
          "mark": {"type": "text", "fontSize": 17, "align": "center", "baseline": "middle", "color": "#1a1a1a"},
          "encoding": {
            "x": {"field": "x", "type": "quantitative"},
            "y": {"field": "y", "type": "quantitative"},
            "text": {"field": "sample"}
          }
        }
      ]
    },
    {
      "width": 412,
      "height": 337,
      "title": {"text": "(b)", "anchor": "start", "frame": "bounds", "fontSize": 27, "offset": -24, "dx": -9},
      "layer": [
        {
          "data": {"name": "ftir"},
          "mark": {"type": "line", "strokeWidth": 2.1, "clip": true},
          "encoding": {
            "x": {
              "field": "w", "type": "quantitative",
              "scale": {"domain": [500, 2200], "reverse": true, "nice": false, "zero": false},
              "axis": {
                "title": "Wavenumber (cm⁻¹)",
                "titleFontSize": 28,
                "values": [2000, 1750, 1500, 1250, 1000, 750, 500],
                "labelExpr": "datum.value % 500 === 0 ? datum.label : ''",
                "tickSize": {"condition": {"test": "datum.value % 500 === 0", "value": 6}, "value": 3},
                "format": "d",
                "labelPadding": 6,
                "titlePadding": 4
              }
            },
            "y": {
              "field": "t", "type": "quantitative",
              "scale": {"domain": [0, 337], "nice": false, "zero": false},
              "axis": {"title": "T %", "ticks": false, "labels": false, "titlePadding": 27}
            },
            "color": {
              "field": "sample", "type": "nominal", "legend": null,
              "scale": {
                "domain": ["MIL-100(Fe)", "Pd(111)/MIL-100", "Pd(100)/MIL-100", "Pd(P)/MIL-100"],
                "range": ["#4b4b4b", "#36aa5e", "#1f6fe3", "#ec3b3f"]
              }
            },
            "detail": {"field": "sample"}
          }
        },
        {
          "data": {"name": "ftirLabels"},
          "mark": {"type": "text", "fontSize": 17, "align": "left", "baseline": "middle", "color": "#1a1a1a"},
          "encoding": {
            "x": {"field": "w", "type": "quantitative"},
            "y": {"field": "t", "type": "quantitative"},
            "text": {"field": "sample"}
          }
        }
      ]
    }
  ]
}
